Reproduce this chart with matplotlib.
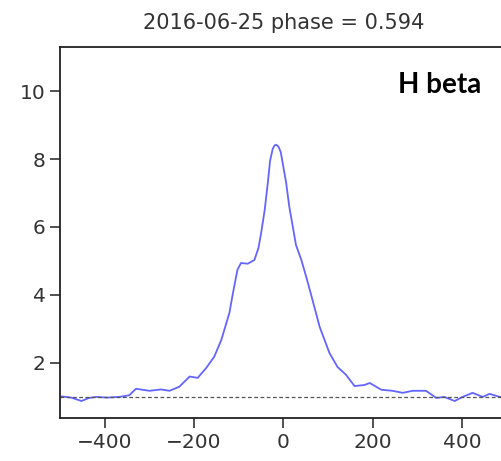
import numpy as np
import matplotlib
matplotlib.use("Agg")
import matplotlib.pyplot as plt

# velocity (km/s) and normalised flux
velocity = [-500, -475, -452, -435, -419, -395, -367, -345, -330, -300, -274, -255,
            -233, -210, -192, -173, -155, -139, -121, -113, -103, -95, -80, -65,
            -56, -50, -42, -35, -30, -24, -20, -16, -11, -6, -2, 6, 13, 21, 28, 40, 51,
            62, 81, 103, 121, 140, 159, 181, 193, 219, 244, 267, 289, 319, 342,
            360, 383, 401, 423, 446, 461, 484, 500]
flux = [1.02, 0.98, 0.88, 0.97, 1.0, 0.98, 1.0, 1.05, 1.24, 1.18, 1.22, 1.18,
        1.3, 1.6, 1.56, 1.85, 2.18, 2.68, 3.47, 4.06, 4.74, 4.94, 4.92, 5.03,
        5.38, 5.82, 6.5, 7.3, 7.95, 8.3, 8.4, 8.42, 8.36, 8.2, 7.9, 7.3, 6.6, 6.0, 5.47,
        5.03, 4.53, 4.0, 3.06, 2.29, 1.88, 1.65, 1.32, 1.35, 1.41, 1.21, 1.18,
        1.12, 1.18, 1.18, 0.97, 1.0, 0.88, 1.0, 1.12, 1.0, 1.09, 1.0, 1.0]

title = "2016-06-25 phase = 0.594"
line_name = "H beta"

fig = plt.figure(figsize=(5.01, 4.61), dpi=100)
ax = fig.add_axes([0.1198, 0.0933, 0.892, 0.805])

ax.plot(velocity, flux, color="#6464ff", linewidth=1.3)
ax.axhline(1.0, color="#555555", linestyle="--", linewidth=0.9, dashes=(3, 2))

ax.set_xlim(-500, 500)
ax.set_ylim(0.38, 11.3)
ax.set_xticks([-400, -200, 0, 200, 400])
ax.set_yticks([2, 4, 6, 8, 10])
ax.tick_params(labelsize=14.5, length=7, width=1.2, colors="#333333", labelcolor="#333333")
for side in ["top", "right", "left", "bottom"]:
    ax.spines[side].set_linewidth(1.3)
    ax.spines[side].set_color("#222222")

ax.set_title(title, fontsize=15, color="#333333", pad=13)
ax.text(0.942, 0.876, line_name, transform=ax.transAxes, ha="right", va="baseline",
        fontsize=20, fontweight="bold", family="Lato")

fig.savefig("out.png", dpi=100)
